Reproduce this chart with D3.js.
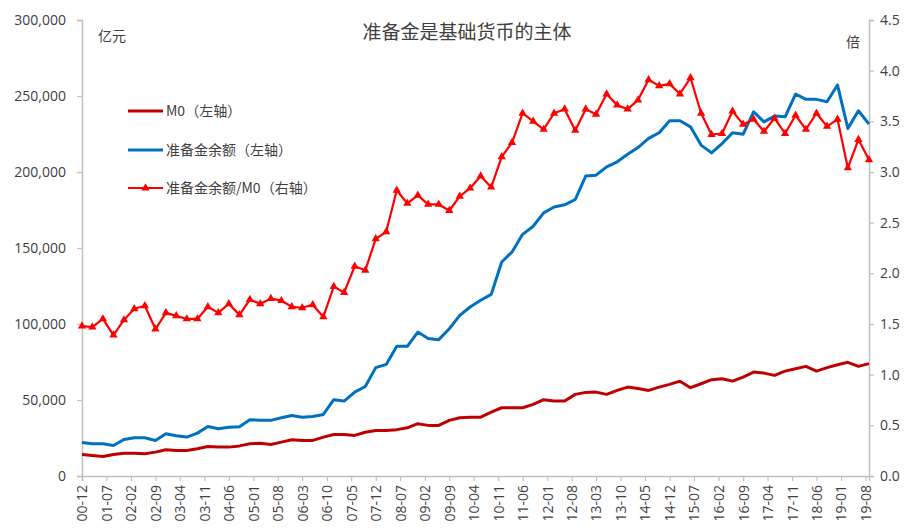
<!DOCTYPE html>
<html><head><meta charset="utf-8">
<script src="https://cdn.jsdelivr.net/npm/d3@7"></script>
<style>
html,body{margin:0;padding:0;background:#fff;}
svg{display:block;}
text{font-family:"Open Sans","Noto Sans CJK SC",sans-serif;fill:#404040;}
.cjk{font-family:"Noto Sans CJK SC","Noto Sans",sans-serif;}
</style></head>
<body>
<svg id="c" width="912" height="532"></svg>
<script>
// quarterly observation dates
const dates = ["2000-12",
"2001-03","2001-06","2001-09","2001-12","2002-03","2002-06","2002-09","2002-12",
"2003-03","2003-06","2003-09","2003-12","2004-03","2004-06","2004-09","2004-12",
"2005-03","2005-06","2005-09","2005-12","2006-03","2006-06","2006-09","2006-12",
"2007-03","2007-06","2007-09","2007-12","2008-03","2008-06","2008-09","2008-12",
"2009-03","2009-06","2009-09","2009-12","2010-03","2010-06","2010-09","2010-12",
"2011-03","2011-06","2011-09","2011-12","2012-03","2012-06","2012-09","2012-12",
"2013-03","2013-06","2013-09","2013-12","2014-03","2014-06","2014-09","2014-12",
"2015-03","2015-06","2015-09","2015-12","2016-03","2016-06","2016-09","2016-12",
"2017-03","2017-06","2017-09","2017-12","2018-03","2018-06","2018-09","2018-12",
"2019-03","2019-06","2019-09"];

// M0 (亿元, left axis)
const m0 = [14200,13500,12800,14200,15000,15000,14600,15700,17300,16800,16800,17900,19400,19000,19000,19800,
21200,21600,20700,22300,23800,23400,23400,25600,27300,27300,26700,28800,30000,30000,30500,
31700,34400,33300,33300,36600,38300,38700,38700,42000,44900,44900,44900,47100,50200,49300,49300,
53700,55000,55200,53700,56300,58500,57600,56300,58500,60300,62400,58100,60700,63400,64000,
62400,65100,68400,67700,66200,69000,70600,72100,69000,71300,73200,74800,72100,73900];

// 准备金余额 (亿元, left axis)
const reserves = [22000,21200,21200,20100,24000,25200,25200,23400,27800,26500,25600,28200,32600,31100,32100,32400,
37000,36600,36600,38300,39800,38700,39200,40500,50200,49300,55200,58900,71300,73400,85300,
85300,94700,90400,89700,96900,105700,111200,115600,119500,140800,147400,159000,164300,173100,177000,178400,
181900,197300,197900,203400,206700,211700,216100,222100,225800,233700,233700,229700,217700,212600,218700,
225800,224900,239600,233000,236800,236300,251300,247800,247800,246200,257200,228700,240300,231500];

// 准备金余额/M0 (倍, right axis)
const ratio = [1.48,1.47,1.55,1.39,1.54,1.65,1.68,1.45,1.61,1.58,1.55,1.55,1.67,1.61,1.70,1.59,
1.74,1.70,1.75,1.73,1.67,1.66,1.69,1.57,1.87,1.81,2.07,2.03,2.34,2.41,2.82,
2.69,2.77,2.68,2.68,2.62,2.76,2.84,2.96,2.85,3.15,3.29,3.58,3.50,3.42,3.58,3.62,
3.41,3.62,3.57,3.77,3.66,3.62,3.71,3.91,3.85,3.87,3.77,3.93,3.58,3.37,3.38,
3.60,3.47,3.52,3.40,3.53,3.38,3.56,3.42,3.58,3.45,3.52,3.04,3.32,3.12];

const xTickLabels = ["00-12","01-07","02-02","02-09","03-04","03-11","04-06","05-01","05-08","06-03","06-10",
"07-05","07-12","08-07","09-02","09-09","10-04","10-11","11-06","12-01","12-08","13-03","13-10",
"14-05","14-12","15-07","16-02","16-09","17-04","17-11","18-06","19-01","19-08"];
const leftTicks = [0,50000,100000,150000,200000,250000,300000];
const rightTicks = [0.0,0.5,1.0,1.5,2.0,2.5,3.0,3.5,4.0,4.5];
const seriesNames = ["M0（左轴）","准备金余额（左轴）","准备金余额/M0（右轴）"];
const title = "准备金是基础货币的主体";

const parse = d3.timeParse("%Y-%m");
const parseShort = d3.timeParse("%y-%m");
const svg = d3.select("#c");
const L = 82, R = 869, T = 20, B = 476;
const x = d3.scaleTime().domain([parse(dates[0]), parse(dates[dates.length-1])]).range([L, R]);
const yL = d3.scaleLinear().domain([0, 300000]).range([B, T]);
const yR = d3.scaleLinear().domain([0, 4.5]).range([B, T]);
const axisColor = "#bfbfbf";

// left axis
const gl = svg.append("g").attr("transform", `translate(${L},0)`)
  .call(d3.axisLeft(yL).tickValues(leftTicks).tickFormat(d3.format(",")).tickSize(5).tickPadding(11));
// right axis
const gr = svg.append("g").attr("transform", `translate(${R},0)`)
  .call(d3.axisRight(yR).tickValues(rightTicks).tickFormat(d3.format(".1f")).tickSize(5).tickPadding(6));
// bottom axis
const gb = svg.append("g").attr("transform", `translate(0,${B})`)
  .call(d3.axisBottom(x).tickValues(xTickLabels.map(parseShort)).tickFormat(d3.timeFormat("%y-%m")).tickSize(5).tickPadding(0));
gb.selectAll("text").attr("transform","rotate(-90)").attr("text-anchor","end")
  .attr("x",-9).attr("y",0).attr("dy","0.35em");
[gl,gr,gb].forEach(g=>{
  g.select(".domain").attr("stroke",axisColor).attr("stroke-width",1.5);
  g.selectAll(".tick line").attr("stroke",axisColor).attr("stroke-width",1.2);
  g.selectAll("text").style("font-size","14px").style("font-family","'Open Sans',sans-serif").attr("fill","#404040");
});

const pts = dates.map((d,i)=>({d:parse(d), m0:m0[i], r:reserves[i], q:ratio[i]}));
const lineM0 = d3.line().x(p=>x(p.d)).y(p=>yL(p.m0));
const lineRes = d3.line().x(p=>x(p.d)).y(p=>yL(p.r));
const lineRat = d3.line().x(p=>x(p.d)).y(p=>yR(p.q));

svg.append("path").datum(pts).attr("d",lineM0).attr("fill","none").attr("stroke","#C00000").attr("stroke-width",3).attr("stroke-linejoin","round");
svg.append("path").datum(pts).attr("d",lineRes).attr("fill","none").attr("stroke","#0070C0").attr("stroke-width",3).attr("stroke-linejoin","round");
svg.append("path").datum(pts).attr("d",lineRat).attr("fill","none").attr("stroke","#FF0000").attr("stroke-width",2.2).attr("stroke-linejoin","round");
const tri = d3.symbol().type(d3.symbolTriangle).size(30);
svg.append("g").selectAll("path").data(pts).join("path")
  .attr("d",tri).attr("transform",p=>`translate(${x(p.d)},${yR(p.q)})`).attr("fill","#FF0000");

// title and unit labels
svg.append("text").attr("class","cjk").attr("x",467).attr("y",39).attr("text-anchor","middle")
  .style("font-size","19px").text(title);
svg.append("text").attr("class","cjk").attr("x",98).attr("y",41).style("font-size","14px").text("亿元");
svg.append("text").attr("class","cjk").attr("x",846).attr("y",47).style("font-size","14px").text("倍");

// legend
const legColors = ["#C00000","#0070C0","#FF0000"];
const legY = [111,150,188];
seriesNames.forEach((n,i)=>{
  svg.append("line").attr("x1",128).attr("x2",163).attr("y1",legY[i]).attr("y2",legY[i])
    .attr("stroke",legColors[i]).attr("stroke-width",i===2?2.2:3);
  if(i===2) svg.append("path").attr("d",tri).attr("transform",`translate(145.5,${legY[i]})`).attr("fill","#FF0000");
  svg.append("text").attr("class","cjk").attr("x",166).attr("y",legY[i]).attr("dy","0.35em")
    .style("font-size","14px").text(n);
});
</script>
</body></html>
